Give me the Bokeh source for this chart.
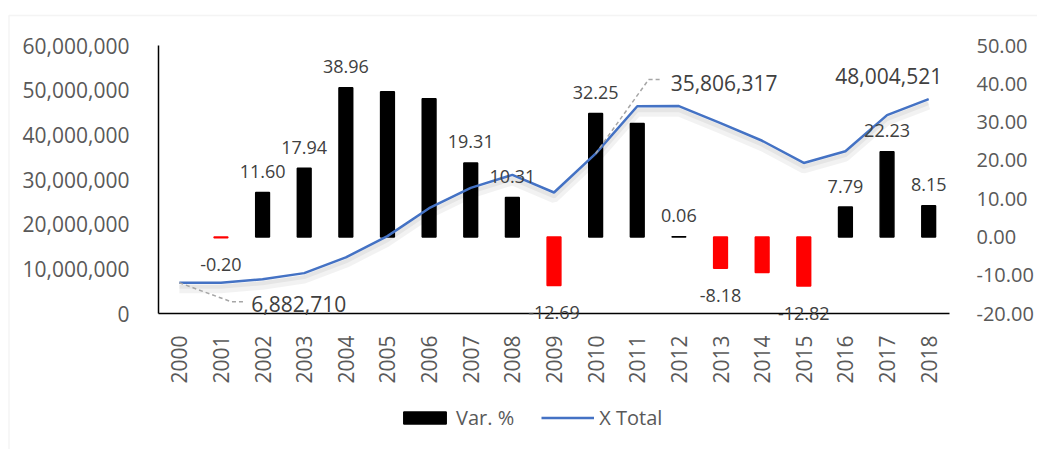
import math
from bokeh.plotting import figure
from bokeh.models import (Range1d, LinearAxis, FixedTicker, NumeralTickFormatter,
                          ColumnDataSource, LabelSet, Label, Legend, LegendItem,
                          BoxAnnotation)
from bokeh.embed import file_html
from bokeh.resources import INLINE
from bokeh.core.properties import value

# ---------------- data ----------------
years = ["2000", "2001", "2002", "2003", "2004", "2005", "2006", "2007", "2008", "2009",
         "2010", "2011", "2012", "2013", "2014", "2015", "2016", "2017", "2018"]
var_pct = [float("nan"), -0.20, 11.60, 17.94, 38.96, 37.9, 36.1, 19.31, 10.31, -12.69,
           32.25, 29.6, 0.06, -8.18, -9.3, -12.82, 7.79, 22.23, 8.15]
var_labels = ["", "-0.20", "11.60", "17.94", "38.96", "", "", "19.31", "10.31", "-12.69",
              "32.25", "", "0.06", "-8.18", "", "-12.82", "7.79", "22.23", "8.15"]
x_total = [6882710, 6868945, 7665740, 9040980, 12563300, 17320000, 23580000, 28130000,
           31030000, 27090000, 35806317, 46400000, 46430000, 42630000, 38670000,
           33710000, 36340000, 44420000, 48004521]
line_label_years = ["2000", "2010", "2018"]
line_label_texts = ["6,882,710", "35,806,317", "48,004,521"]
left_ticks = [0, 10000000, 20000000, 30000000, 40000000, 50000000, 60000000]
right_ticks = [-20, -10, 0, 10, 20, 30, 40, 50]

# ---------------- layout constants (pixels) ----------------
W, H = 1037, 449
X0, X1, Y0, Y1 = 158, 949, 45, 313     # plot-area edges on the canvas
FONT = "Open Sans"

n = len(years)
px_x = (X1 - X0) / n
lmin, lmax = left_ticks[0], left_ticks[-1]
rmin, rmax = right_ticks[0], right_ticks[-1]
px_left = (Y1 - Y0) / (lmax - lmin)
px_right = (Y1 - Y0) / (rmax - rmin)

x_range = Range1d(-0.5 - X0 / px_x, n - 0.5 + (W - X1) / px_x)
y_range = Range1d(lmin - (H - Y1) / px_left, lmax + Y0 / px_left)
r_range = Range1d(rmin - (H - Y1) / px_right, rmax + Y0 / px_right)

idx = list(range(n))
bar_colors = ["#FF0000" if (v == v and v < 0) else "#000000" for v in var_pct]
label_offsets = [0 if v != v else (21 if v >= 0 else -27) for v in var_pct]

src = ColumnDataSource(dict(x=idx, pct=var_pct, color=bar_colors,
                            lab=var_labels, off=label_offsets, total=x_total))

p = figure(frame_width=W, frame_height=H, min_border=0,
           x_range=x_range, y_range=y_range,
           output_backend="svg", toolbar_location=None, tools="")
p.extra_y_ranges = {"right": r_range}
p.xgrid.visible = False
p.ygrid.visible = False
p.outline_line_color = None
p.background_fill_color = "white"
p.border_fill_color = "white"

# axes (drawn at fixed locations inside the canvas)
xa = p.xaxis[0]
xa.fixed_location = lmin
xa.bounds = (-0.5, n - 0.5)
xa.ticker = FixedTicker(ticks=idx)
xa.major_label_overrides = {i: y for i, y in enumerate(years)}
xa.major_label_orientation = math.pi / 2
xa.major_label_standoff = 16
ya = p.yaxis[0]
ya.fixed_location = -0.5
ya.bounds = (lmin, lmax)
ya.ticker = FixedTicker(ticks=left_ticks)
ya.formatter = NumeralTickFormatter(format="0,0")
ya.major_label_standoff = 23
ra = LinearAxis(y_range_name="right", ticker=FixedTicker(ticks=right_ticks),
                formatter=NumeralTickFormatter(format="0.00"))
ra.fixed_location = n - 0.5
ra.bounds = (rmin, rmax)
ra.major_label_standoff = 21
ra.axis_line_color = None
p.add_layout(ra, "right")
for ax in [xa, ya, ra]:
    ax.major_tick_line_color = None
    ax.minor_tick_line_color = None
    ax.major_label_text_font = FONT
    ax.major_label_text_font_size = "21px"
    ax.major_label_text_color = "#595959"
ra.major_label_text_font_size = "20px"
for ax in [xa, ya]:
    ax.axis_line_color = "black"
    ax.axis_line_width = 1.5

# bars
bars = p.vbar(x="x", top="pct", bottom=0, width=0.33, fill_color="color",
              line_color="color", line_width=1.5, source=src, y_range_name="right")

# line shadow + line
p.line(idx, [v - 6 / px_left for v in x_total], line_color="#000000", line_alpha=0.05, line_width=9)
p.line(idx, [v - 4 / px_left for v in x_total], line_color="#000000", line_alpha=0.05, line_width=4)
ln = p.line(x="x", y="total", source=src, line_color="#4472C4", line_width=2.5)

# bar labels
p.add_layout(LabelSet(x="x", y="pct", text="lab", y_offset="off", source=src,
                      y_range_name="right", text_align="center", text_baseline="middle",
                      text_font=value(FONT), text_font_size="18px", text_color="#404040"))

# line labels with leader lines
lead = {"2000": ((52, 19), (64, 19)), "2010": ((53, -74), (65, -74))}
pos = {"2000": (72, -21, "left"), "2010": (75, 71, "left"), "2018": (-40, 23, "center")}
for yr, txt in zip(line_label_years, line_label_texts):
    i = years.index(yr)
    v = x_total[i]
    if yr in lead:
        (dx1, dy1), (dx2, dy2) = lead[yr]
        xs = [i, i + dx1 / px_x, i + dx2 / px_x]
        ys = [v, v - dy1 / px_left, v - dy2 / px_left]
        p.line(xs, ys, line_color="#A6A6A6", line_width=1.5, line_dash="4 3")
    xo, yo, al = pos[yr]
    p.add_layout(Label(x=i, y=v, x_offset=xo, y_offset=yo, text=txt, text_align=al,
                       text_baseline="middle", text_font=FONT, text_font_size="21px",
                       text_color="#404040"))

# legend
legend = Legend(items=[LegendItem(label="Var. %", renderers=[bars], index=2),
                       LegendItem(label="X Total", renderers=[ln])],
                location=(398, 18), orientation="horizontal",
                glyph_width=53, glyph_height=15, label_height=15, label_standoff=5,
                spacing=27, padding=0, margin=0, border_line_alpha=0,
                background_fill_alpha=0, label_text_font=FONT,
                label_text_font_size="20px", label_text_color="#595959")
p.add_layout(legend)

# chart outer border
p.add_layout(BoxAnnotation(left=8.5, right=W + 50, top=H - 15, bottom=-50,
                           left_units="screen", right_units="screen",
                           top_units="screen", bottom_units="screen",
                           fill_alpha=0, line_color="#D9D9D9", line_width=1.5))

open("out.html", "w").write(file_html(p, INLINE))
